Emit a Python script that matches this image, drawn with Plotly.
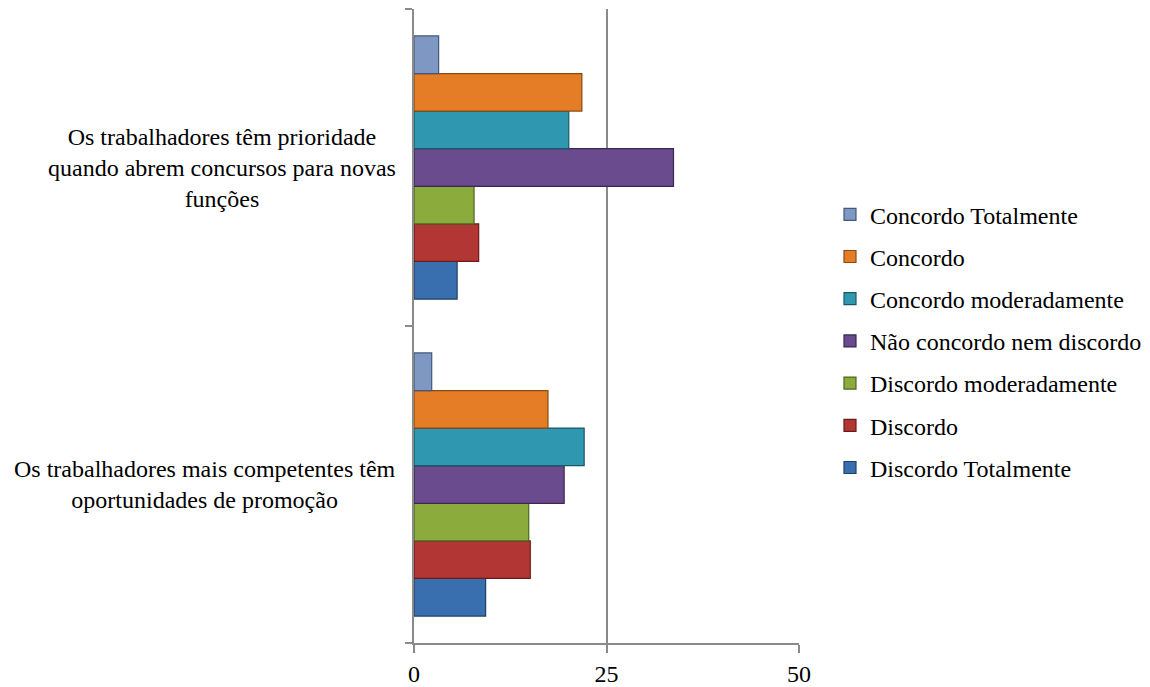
import plotly.graph_objects as go

# Survey statements (bottom to top on the chart)
categories = [
    "Os trabalhadores mais competentes têm oportunidades de promoção",
    "Os trabalhadores têm prioridade quando abrem concursos para novas funções",
]
# Wrapped label text for each statement
category_labels = [
    "Os trabalhadores mais competentes têm<br>oportunidades de promoção",
    "Os trabalhadores têm prioridade<br>quando abrem concursos para novas<br>funções",
]

series_names = [
    "Discordo Totalmente",
    "Discordo",
    "Discordo moderadamente",
    "Não concordo nem discordo",
    "Concordo moderadamente",
    "Concordo",
    "Concordo Totalmente",
]

discordo_totalmente = [9.3, 5.6]
discordo = [15.1, 8.4]
discordo_moderadamente = [14.9, 7.8]
nao_concordo_nem_discordo = [19.5, 33.7]
concordo_moderadamente = [22.1, 20.1]
concordo = [17.4, 21.8]
concordo_totalmente = [2.3, 3.2]

series_values = [
    discordo_totalmente,
    discordo,
    discordo_moderadamente,
    nao_concordo_nem_discordo,
    concordo_moderadamente,
    concordo,
    concordo_totalmente,
]

fill_colors = ["#3A6FAF", "#B23634", "#8BAB3C", "#6A4B8D", "#2F97AF", "#E47D26", "#7E98C3"]
edge_colors = ["#1F3F66", "#6A1B1A", "#4E6620", "#3A2754", "#17596A", "#8A4A12", "#44587A"]

x_ticks = [0, 25, 50]

FONT = "Liberation Serif"
GRAY = "#8A8A8A"

fig = go.Figure()
n_series = len(series_names)
for i, (name, vals, fc, ec) in enumerate(zip(series_names, series_values, fill_colors, edge_colors)):
    fig.add_trace(go.Bar(
        y=categories,
        x=vals,
        name=name,
        orientation="h",
        legendgroup=name,
        legendrank=n_series - i,
        marker=dict(color=fc, line=dict(color=ec, width=1.2)),
    ))

annotations = []
for cat, label in zip(categories, category_labels):
    annotations.append(dict(
        text=label,
        xref="paper", x=0, xanchor="right", xshift=-16,
        yref="y", y=cat, yanchor="middle",
        showarrow=False,
        align="center",
        font=dict(family=FONT, size=24, color="#000000"),
    ))

fig.update_layout(
    width=1150,
    height=687,
    margin=dict(l=414, r=351, t=9, b=44, autoexpand=False),
    paper_bgcolor="white",
    plot_bgcolor="white",
    barmode="group",
    bargap=0.17,
    bargroupgap=0,
    font=dict(family=FONT, size=24, color="#000000"),
    showlegend=True,
    legend=dict(
        traceorder="grouped",
        tracegroupgap=8,
        x=1.0805, xanchor="left",
        y=0.476, yanchor="middle",
        font=dict(family=FONT, size=24, color="#000000"),
        itemwidth=30,
        bgcolor="rgba(0,0,0,0)",
    ),
    xaxis=dict(
        range=[0, 50],
        tickvals=x_ticks,
        ticktext=[str(v) for v in x_ticks],
        showgrid=True,
        gridcolor=GRAY,
        gridwidth=1.5,
        zeroline=False,
        showline=True,
        linecolor=GRAY,
        linewidth=1.5,
        ticks="outside",
        ticklen=8,
        tickwidth=1.5,
        tickcolor=GRAY,
        tickfont=dict(family=FONT, size=24, color="#000000"),
    ),
    yaxis=dict(
        type="category",
        categoryorder="array",
        categoryarray=categories,
        showticklabels=False,
        showgrid=False,
        zeroline=False,
        showline=True,
        linecolor=GRAY,
        linewidth=1.5,
        ticks="outside",
        tickson="boundaries",
        ticklen=7,
        tickwidth=1.5,
        tickcolor=GRAY,
    ),
    annotations=annotations,
)

fig.write_html("out.html")
